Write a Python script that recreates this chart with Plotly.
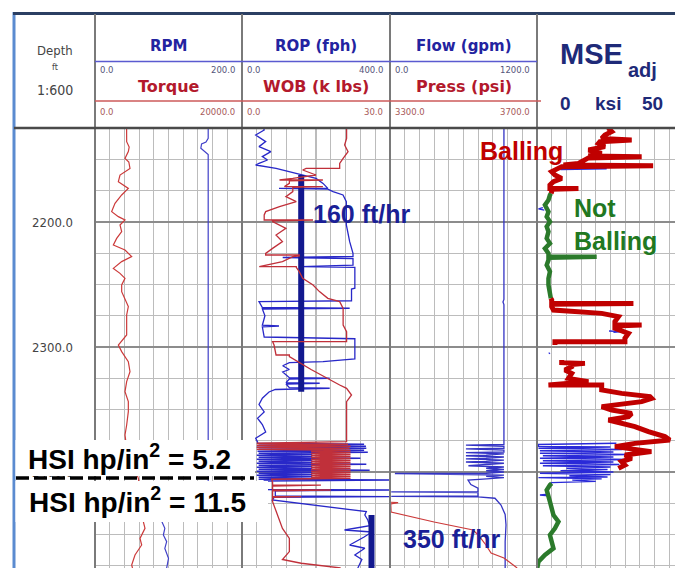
import plotly.graph_objects as go

W, H = 675, 568

# ---------------- data (depth in ft; values in each curve's own units) ----------------
depth_top, depth_bottom = 2124.8, 2476.8

rpm_points = [(2124.8, 154), (2133, 154), (2136, 151), (2137.5, 145), (2141, 144), (2144, 150), (2146, 154),
              (2300, 154), (2404, 154), (2412, 154), (2425, 92), (2432, 92), (2439.7, 91), (2445.1, 95),
              (2450.4, 93), (2455.7, 97.5), (2461.1, 95), (2469.1, 100), (2476.8, 97.5)]

torque_points = [(2124.8, 4300), (2130, 4308), (2135.7, 4308), (2140, 4650), (2143.7, 4535), (2149.1, 4082),
                 (2152, 4600), (2157.1, 4762), (2162.4, 3401), (2167.7, 3175), (2173.1, 4535), (2178.4, 3628),
                 (2185.1, 2721), (2191.7, 2268), (2195.7, 3175), (2198.4, 4082), (2202.4, 3401), (2207.7, 3628),
                 (2213.1, 2948), (2218.4, 2494), (2222.4, 4082), (2227.7, 4989), (2231.7, 3628), (2237.1, 2494),
                 (2241.1, 3401), (2245.1, 4082), (2250.4, 3628), (2255.7, 3628), (2261.1, 4082), (2267.7, 4535),
                 (2274.4, 4308), (2282.4, 4308), (2290.4, 4308), (2298.4, 3175), (2303.7, 3628), (2311.7, 4535),
                 (2319.7, 4762), (2327.7, 4308), (2335.7, 4082), (2343.7, 4535), (2351.7, 4535), (2362.4, 4308),
                 (2370.4, 4082), (2380, 4300), (2395, 5200), (2405.1, 5896), (2420, 6300), (2439.7, 6576),
                 (2445.1, 6803), (2453.1, 6122), (2458.4, 6349), (2466.4, 5442), (2474.4, 4989), (2476.8, 5100)]

rop_points = [(2124.8, 58), (2126.4, 60), (2130.4, 37), (2135.7, 64), (2139.7, 46), (2143.7, 78), (2147.7, 55),
              (2150.4, 69), (2153.1, 46), (2154.4, 37), (2157.1, 92), (2159.7, 128), (2162.4, 164), (2165.1, 200),
              (2169.1, 219), (2173.1, 232), (2173.1, 100), (2173.7, 232), (2175.7, 246), (2178.4, 273),
              (2183.7, 282), (2202.4, 282), (2215.7, 291), (2225.1, 300), (2227.5, 300), (2228.4, 110),
              (2229.2, 300), (2234.5, 300), (2235.7, 160), (2236.3, 305), (2253.0, 305), (2253.6, 296),
              (2263.0, 296), (2263.7, 46), (2268.4, 55), (2269.0, 291), (2269.6, 55), (2275.0, 62), (2282.6, 55),
              (2283.2, 100), (2283.8, 55), (2292.0, 60), (2293.4, 305), (2309.5, 305), (2311.7, 219),
              (2312.5, 128), (2315.0, 110), (2318.0, 128), (2320.0, 110), (2324.5, 128), (2325.0, 237),
              (2325.6, 128), (2328.5, 119), (2329.0, 210), (2329.6, 119), (2332.5, 128), (2333.0, 237),
              (2334.0, 90), (2336.0, 73), (2341.0, 55), (2346.0, 46), (2352.0, 60), (2357.0, 42), (2362.0, 55),
              (2368.0, 64), (2373.0, 37), (2376.0, 42),
              (2377.0, 42), (2377.8, 330), (2378.6, 45), (2379.4, 335), (2380.2, 40), (2381.0, 336), (2381.8, 45),
              (2382.6, 330), (2383.4, 42), (2384.2, 340), (2385.0, 45), (2385.8, 190), (2386.6, 40), (2387.4, 190),
              (2388.2, 45), (2389.0, 320), (2389.8, 40), (2390.6, 190), (2391.4, 45), (2392.2, 190), (2393.0, 40),
              (2393.8, 336), (2394.6, 45), (2395.4, 190), (2396.2, 40), (2397.0, 190), (2397.8, 45), (2398.6, 345),
              (2399.4, 40), (2400.2, 190), (2401.0, 45), (2401.8, 190), (2402.6, 40), (2403.4, 190), (2404.2, 45),
              (2405.0, 190), (2405.8, 45), (2406.4, 430), (2407.2, 60), (2410.0, 55), (2414.0, 50), (2414.4, 410),
              (2415.0, 90), (2419.2, 90), (2419.7, 410), (2420.3, 87), (2422.4, 82), (2431.7, 336), (2434.4, 332),
              (2438.4, 340), (2443.0, 345), (2446.4, 277), (2448.0, 351), (2452.0, 330), (2458.4, 291),
              (2461.0, 332), (2466.4, 305), (2470.0, 324), (2476.8, 313)]

wob_points = [(2124.8, 21.2), (2133.1, 21.2), (2138.4, 20.8), (2143.7, 21.5), (2149.1, 20.5), (2153.1, 19.8),
              (2157.1, 19.8), (2157.1, 13.0), (2158.4, 12.3), (2162.4, 15.0), (2165.1, 10.3), (2166.4, 7.6),
              (2166.4, 16.4), (2167.0, 9.6), (2169.1, 9.6), (2171.7, 8.6), (2171.7, 16.4), (2172.3, 10.3),
              (2175.7, 10.3), (2179.7, 8.9), (2183.7, 11.0), (2187.7, 7.6), (2191.7, 4.8), (2194.4, 4.5),
              (2198.4, 4.5), (2198.4, 14.4), (2199.0, 6.2), (2199.7, 6.2), (2205.1, 8.9), (2210.4, 6.9),
              (2215.7, 8.2), (2221.1, 6.2), (2225.1, 4.8), (2226.4, 4.8), (2226.4, 11.6), (2227.2, 11.6),
              (2227.7, 10.3), (2231.7, 8.2), (2235.7, 3.5), (2235.7, 11.0), (2236.3, 11.0), (2239.7, 11.6),
              (2245.1, 12.3), (2250.4, 14.4), (2255.7, 15.7), (2261.1, 17.4), (2263.7, 19.8), (2269.1, 20.5),
              (2282.4, 20.5), (2287.7, 21.2), (2295.7, 21.2), (2295.7, 6.2), (2298.4, 6.5), (2306.4, 6.9),
              (2306.4, 9.6), (2307.7, 9.6), (2318.0, 14.0), (2330.4, 19.8), (2333.1, 21.2), (2338.4, 22.2),
              (2343.7, 21.2), (2375.7, 21.2),
              (2377.0, 3), (2377.8, 21.5), (2378.6, 3), (2379.4, 22), (2380.2, 3), (2381.0, 21.8), (2381.8, 3),
              (2382.6, 22), (2383.4, 14), (2384.2, 22), (2385.0, 14), (2385.8, 22), (2386.6, 14), (2387.4, 22),
              (2388.2, 14), (2389.0, 22), (2389.8, 14), (2390.6, 22), (2391.4, 14), (2392.2, 22), (2393.0, 14),
              (2393.8, 22), (2394.6, 14), (2395.4, 22), (2396.2, 14), (2397.0, 22), (2397.8, 14), (2398.6, 22),
              (2399.4, 14), (2400.2, 22), (2401.0, 14), (2401.8, 22), (2402.6, 14), (2403.4, 22), (2404.2, 14),
              (2405.0, 22), (2405.8, 6), (2408.0, 6.2), (2410.5, 6.2), (2410.5, 16), (2411.2, 6.2), (2414.4, 6.2),
              (2414.4, 18), (2415.0, 6.2), (2419.7, 6.2), (2419.7, 12), (2420.3, 6.2), (2423.7, 6.2),
              (2431.7, 6.9), (2445.1, 8.2), (2453.1, 9.6), (2463.7, 9.6), (2470.0, 8.2), (2473.0, 12),
              (2476.8, 20)]

flow_points = [(2124.8, 930), (2262, 930), (2264, 922), (2266, 930), (2378, 930),
               (2378.5, 620), (2379.5, 930), (2381, 930), (2381.5, 620), (2382.5, 930), (2384, 930), (2384.5, 620),
               (2385.5, 930), (2386.5, 785), (2387, 620), (2388, 930), (2389, 785), (2389.5, 620), (2390.5, 930),
               (2391.5, 785), (2392, 620), (2393, 930), (2394, 785), (2395, 640), (2396, 930), (2397, 785),
               (2398, 930), (2399, 785), (2400, 930), (2401, 785), (2401.2, 40), (2401.8, 785), (2402.5, 930),
               (2403.5, 785), (2404.5, 930), (2405.5, 790), (2406.4, 637), (2410, 660), (2413, 718),
               (2415.7, 718), (2415.9, 10), (2416.5, 718), (2419.2, 718), (2419.5, 10), (2419.9, 718),
               (2421, 857), (2426.4, 906), (2434, 940), (2442.4, 947), (2455.7, 940), (2476.8, 940)]

press_points = [(2424.2, 3302), (2424.5, 3322), (2425.5, 3302), (2432, 3303), (2440, 3420), (2446.4, 3526),
                (2450.4, 3540), (2458, 3560), (2464.8, 3575), (2468.8, 3610), (2476.8, 3646)]

# MSE adjusted: balling (red) and not-balling (green) intervals, None = break
mse_balling_points = [(2124.8, 24.2), (2127.7, 25.4), (2130.4, 23.1), (2133.1, 22.0), (2134.4, 32.2), (2135.7, 21.4),
                      (2137.1, 20.9), (2139.7, 23.1), (2142.4, 17.5), (2145.1, 22.0), (2147.1, 17.5), (2147.7, 35.6),
                      (2148.7, 17.5), (2150.4, 16.3), (2153.1, 14.1), (2154.4, 9.0), (2154.9, 39.5), (2155.7, 8.4),
                      (2157.1, 7.3), (2159.7, 5.0), (2162.4, 6.1), (2165.1, 8.4), (2167.7, 5.6), (2170.4, 4.4),
                      (2173.1, 4.4), (2173.1, 14.1), (2173.8, 5.0), (2175.7, 5.0), (2177.1, 4.8),
                      (None, None),
                      (2261.1, 4.7), (2262.4, 5.0), (2265.1, 5.0), (2265.1, 32.8), (2265.8, 5.0), (2267.7, 5.0),
                      (2270.4, 5.6), (2273.1, 22.0), (2275.7, 27.7), (2279.7, 26.5), (2282.4, 26.5), (2282.4, 35.6),
                      (2283.1, 26.5), (2285.1, 26.5), (2289.1, 31.1), (2293.1, 29.9), (2295.7, 29.9), (2295.7, 6.1),
                      (2296.5, 6.1), (2298.4, 6.1),
                      (None, None),
                      (2310.4, 8.4), (2312.5, 8.4), (2313.1, 16.3), (2314.0, 11.8), (2315.7, 11.8), (2318.4, 9.5),
                      (2321.1, 11.8), (2325.1, 10.7), (2327.7, 17.5), (2330.4, 3.9), (2330.4, 22.0), (2334.4, 22.0),
                      (2337.1, 28.8), (2339.7, 38.4), (2341.1, 39.0), (2343.7, 35.6), (2347.7, 22.0), (2350.4, 25.4),
                      (2353.1, 32.2), (2355.7, 31.1), (2358.4, 24.3), (2361.1, 28.8), (2363.7, 33.3), (2367.7, 37.9),
                      (2371.7, 43.5), (2374.4, 45.2), (2377.1, 33.3), (2379.7, 26.5), (2383.7, 38.9), (2386.4, 29.9),
                      (2389.1, 32.2), (2391.7, 28.8), (2394.4, 29.9), (2397.1, 27.7)]

mse_clean_points = [(2177.1, 4.8), (2178.4, 4.4), (2182.4, 3.9), (2186.4, 2.7), (2191.7, 3.9), (2195.7, 3.3),
                    (2199.7, 4.4), (2203.7, 3.3), (2207.7, 3.9), (2213.1, 3.3), (2217.1, 4.4), (2221.1, 2.7),
                    (2225.1, 3.9), (2227.7, 3.9), (2227.7, 20.3), (2228.5, 3.9), (2230.4, 3.9), (2234.4, 3.3),
                    (2239.7, 4.4), (2245.1, 3.9), (2250.4, 3.9), (2255.7, 4.4), (2259.7, 4.4), (2261.1, 4.7),
                    (None, None),
                    (2409.1, 5.0), (2410.4, 4.4), (2414.4, 3.3), (2418.4, 3.9), (2423.7, 4.4), (2429.1, 5.0),
                    (2434.4, 5.6), (2439.7, 7.3), (2445.1, 6.1), (2450.4, 4.4), (2455.7, 5.0), (2461.1, 5.6),
                    (2466.4, 2.7), (2471.7, 0.5), (2476.8, 0.1)]

mse_raw_points = [(2156.8, 10.7), (2157.4, 23.7), (2158.0, 8.0), (None, None),
                  (2188.5, 2.0), (2189.5, 0.5), (2190.5, 2.5), (None, None),
                  (2287.2, 24.5), (2287.7, 29.0), (2288.2, 26.0), (None, None),
                  (2304.5, 4.0), (2305.5, 4.4), (None, None),
                  (2377, 27), (2378, 0.5), (2379.5, 0.5), (2380, 25), (2381, 0.5), (2382, 29), (2383, 1), (2384, 26),
                  (2385, 1), (2386, 31), (2387, 2), (2388, 26), (2389, 1), (2390, 32), (2391, 2), (2392, 26),
                  (2393, 1), (2394, 28), (2395, 2), (2396, 25), (2397, 10), (2398, 24), (2399, 8), (2400, 26),
                  (2401, 1), (2402, 25), (2403, 11), (2404, 24), (2404.5, 0.5), (2405.5, 22), (2406.5, 12),
                  (2407.5, 20), (2408.5, 5), (2409.5, 4.8), (None, None),
                  (2417.8, 4.0), (2418.4, 1.0), (2419.0, 4.0)]

rop_markers = [(160, 2162.4, 2335.7), (350, 2434.4, 2476.8)]   # (ROP ft/hr, depth from, depth to)


def split(points):
    return [p[0] for p in points], [p[1] for p in points]


# ---------------- pixel helpers ----------------
def px(x):
    return x / W


def py(y):
    return 1 - y / H


X1, X2, X3, X4, X5 = 95, 242, 390, 537, 684
TOP = 128

BLUE = "#3434c4"
RED = "#cc3a3a"
NAVY = "#12188e"

fig = go.Figure()


def add(points, xa, color, width, name):
    d, v = split(points)
    fig.add_trace(go.Scatter(x=v, y=d, xaxis=xa, yaxis="y", mode="lines", name=name,
                             line=dict(color=color, width=width), hoverinfo="skip", showlegend=False))


add(torque_points, "x5", RED, 1.2, "Torque")
add(rpm_points, "x", "#4040c8", 1.2, "RPM")
add(wob_points, "x6", "#c0303a", 1.3, "WOB")
add(rop_points, "x2", "#2828c8", 1.3, "ROP")
add(press_points, "x7", RED, 1.2, "Press")
add(flow_points, "x3", BLUE, 1.3, "Flow")
add(mse_raw_points, "x4", "#2a2ad8", 1.3, "MSE raw")
add(mse_clean_points, "x4", "#2b7a2b", 4.5, "MSE not balling")
add(mse_balling_points, "x4", "#c00000", 5, "MSE balling")
for rop_val, d0, d1 in rop_markers:
    fig.add_trace(go.Scatter(x=[rop_val, rop_val], y=[d0, d1], xaxis="x2", yaxis="y", mode="lines",
                             line=dict(color=NAVY, width=6), hoverinfo="skip", showlegend=False))

GRID = "#bcbcbc"
common_x = dict(showticklabels=False, ticks="", zeroline=False, showline=False, anchor="y",
                gridcolor=GRID, gridwidth=1.1, fixedrange=True)
mse_span = 50 * (W - X4) / (X5 - X4)
fig.update_layout(
    width=W, height=H, autosize=False,
    margin=dict(l=0, r=0, t=0, b=0),
    paper_bgcolor="white", plot_bgcolor="white",
    xaxis=dict(domain=[px(X1), px(X2)], range=[0, 200], dtick=20, **common_x),
    xaxis2=dict(domain=[px(X2), px(X3)], range=[0, 400], dtick=40, **common_x),
    xaxis3=dict(domain=[px(X3), px(X4)], range=[0, 1200], dtick=120, **common_x),
    xaxis4=dict(domain=[px(X4), 1], range=[0, mse_span], dtick=5, **common_x),
    xaxis5=dict(overlaying="x", range=[0, 20000], visible=False, anchor="y"),
    xaxis6=dict(overlaying="x2", range=[0, 30], visible=False, anchor="y"),
    xaxis7=dict(overlaying="x3", range=[3300, 3700], visible=False, anchor="y"),
    yaxis=dict(domain=[0, py(TOP)], range=[depth_bottom, depth_top], anchor="x",
               tick0=2100, dtick=100, tickformat=".1f", ticks="", showline=False, zeroline=False,
               gridcolor="#8c8c8c", gridwidth=1.5, ticklabelstandoff=21,
               tickfont=dict(family="Liberation Sans Narrow, DejaVu Sans Condensed, sans-serif", size=13,
                             color="#444444"),
               minor=dict(tick0=2100, dtick=25, showgrid=True, gridcolor=GRID, gridwidth=1.1),
               fixedrange=True),
)

shapes = []


def line(x0, y0, x1, y1, color, width, dash=None, layer="above"):
    d = dict(type="line", xref="paper", yref="paper", x0=px(x0), y0=py(y0), x1=px(x1), y1=py(y1),
             line=dict(color=color, width=width), layer=layer)
    if dash:
        d["line"]["dash"] = dash
    shapes.append(d)


# frame
line(14, 12, 14, H, "#5b8bd0", 3)
line(13, 13.5, W, 13.5, "#2b3f63", 3)
for xb in (X1, X2, X3, X4):
    line(xb, 14, xb, H, "#7a7a7a", 2)
line(14, TOP, W, TOP, "#4a4a4a", 2.5)
line(X1, 61.5, X4, 61.5, "#5a5ad0", 1.5)
line(X1, 101, X4 + 4, 101, "#cc5a5a", 1.5)
# HSI boxes
shapes.append(dict(type="rect", xref="paper", yref="paper", x0=px(15.5), x1=px(255), y0=py(476), y1=py(440),
                   fillcolor="white", line=dict(width=0), layer="above"))
shapes.append(dict(type="rect", xref="paper", yref="paper", x0=px(15.5), x1=px(268), y0=py(522), y1=py(481),
                   fillcolor="white", line=dict(width=0), layer="above"))
line(16, 478, 254, 478, "black", 3.5, dash="13px,5px")
fig.update_layout(shapes=shapes)

ann = []
ARIAL = "Liberation Sans, Arial, sans-serif"
DJV = "DejaVu Sans, sans-serif"
NARROW = "Liberation Sans Narrow, DejaVu Sans Condensed, sans-serif"


def text(x, y, s, size, color, family, xanchor="center", weight="normal"):
    ann.append(dict(x=px(x), y=py(y), xref="paper", yref="paper", text=s, showarrow=False,
                    xanchor=xanchor, yanchor="middle",
                    font=dict(size=size, color=color, family=family, weight=weight)))


track_titles = ["RPM", "ROP (fph)", "Flow (gpm)"]
track_titles2 = ["Torque", "WOB (k lbs)", "Press (psi)"]
scale_top = [("0.0", "200.0"), ("0.0", "400.0"), ("0.0", "1200.0")]
scale_bot = [("0.0", "20000.0"), ("0.0", "30.0"), ("3300.0", "3700.0")]
edges = [(X1, X2), (X2, X3), (X3, X4)]
for (a, b), t1, t2, st, sb in zip(edges, track_titles, track_titles2, scale_top, scale_bot):
    cx = (a + b) / 2
    text(cx, 46, t1, 15, "#2323a0", DJV, weight="bold")
    text(cx, 87, t2, 16, "#b3192c", DJV, weight="bold")
    text(a + 3, 70.5, st[0], 8.5, "#55557a", DJV, xanchor="left")
    text(b - 5, 69.5, st[1], 8.5, "#55557a", DJV, xanchor="right")
    text(a + 3, 112.5, sb[0], 8.5, "#a85a5a", DJV, xanchor="left")
    text(b - 5, 112.5, sb[1], 8.5, "#a85a5a", DJV, xanchor="right")

text(55, 50, "Depth", 13, "#444444", NARROW)
text(55, 67, "ft", 9, "#444444", NARROW)
text(55, 90, "1:600", 14, "#444444", NARROW)

MSEC = "#1e2a78"
text(591, 54, "MSE", 29, MSEC, ARIAL, weight="bold")
text(642, 70, "adj", 20, MSEC, ARIAL, weight="bold")
text(565, 103, "0", 19, MSEC, ARIAL, weight="bold")
text(608, 103, "ksi", 19, MSEC, ARIAL, weight="bold")
text(652, 103, "50", 19, MSEC, ARIAL, weight="bold")

text(478, 151, "Balling", 25, "#c00000", ARIAL, xanchor="left", weight="bold")
text(572, 208, "Not", 25, "#217821", ARIAL, xanchor="left", weight="bold")
text(572, 241, "Balling", 25, "#217821", ARIAL, xanchor="left", weight="bold")
text(311, 214, "160 ft/hr", 25, "#1a1f96", ARIAL, xanchor="left", weight="bold")
text(401, 539, "350 ft/hr", 25, "#1a1f96", ARIAL, xanchor="left", weight="bold")
text(26, 457, "HSI hp/in<sup>2</sup> = 5.2", 28, "black", ARIAL, xanchor="left", weight="bold")
text(27, 500, "HSI hp/in<sup>2</sup> = 11.5", 28, "black", ARIAL, xanchor="left", weight="bold")

fig.update_layout(annotations=ann)

fig.write_html("out.html", config={"displayModeBar": False, "staticPlot": True},
               post_script="document.body.style.margin='0px';document.body.style.overflow='hidden';")
